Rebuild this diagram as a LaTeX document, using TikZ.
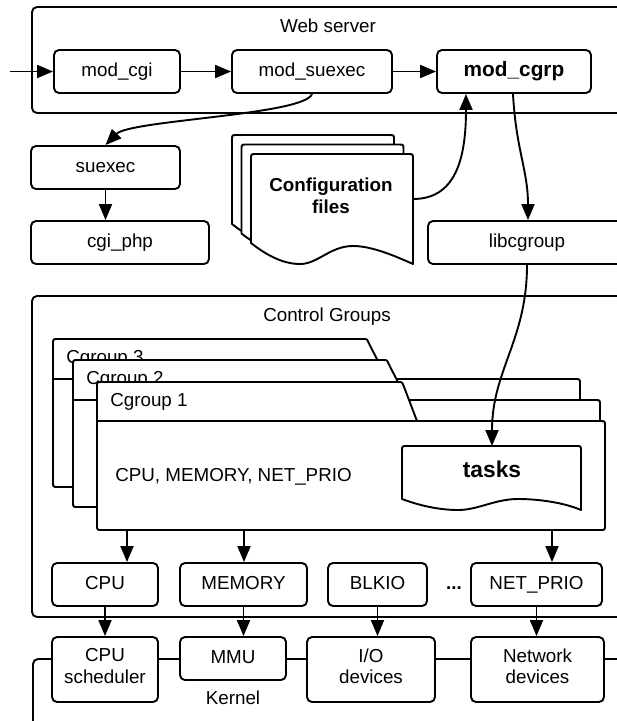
\documentclass[tikz,border=0pt]{standalone}
\usepackage{fontspec}
\setmainfont{Liberation Sans}
\usetikzlibrary{arrows.meta}

% folder outline: #1 left, #2 top, #3 tab foot y, #4 tab top-right x,
% #5 tab foot x, #6 right, #7 bottom
\newcommand\cgfolder[7]{%
  \draw[fill=white] (#1,#7-5) -- (#1,#2+5) .. controls (#1,#2) .. (#1+5,#2)
    -- (#4-4,#2) .. controls (#4,#2) .. (#4+1.5,#2+3.5) -- (#5,#3)
    -- (#6-5,#3) .. controls (#6,#3) .. (#6,#3+5) -- (#6,#7-5)
    .. controls (#6,#7) .. (#6-5,#7) -- (#1+5,#7) .. controls (#1,#7) .. (#1,#7-5) -- cycle;
  \draw (#1,#3) -- (#5,#3);
}
% one sheet of the configuration stack
\newcommand\confsheet{%
  \draw[fill=white] (251,243) -- (251,159) .. controls (251,154) .. (256,154)
    -- (408,154) .. controls (413,154) .. (413,159) -- (413,264)
    .. controls (395,256) and (372,246) .. (353,246)
    .. controls (330,246) and (318,264) .. (300,264)
    .. controls (282,264) and (265,254) .. (251,243) -- cycle;
}
\newcommand\lowstrut{\rule[-7pt]{0pt}{7pt}}

\begin{document}
\begin{tikzpicture}[x=1pt,y=-1pt,
  line width=1.9pt, line join=round,
  every node/.style={font=\fontsize{18.8pt}{21.5pt}\selectfont},
  box/.style={draw, rounded corners=5pt, fill=white, inner sep=0pt,
    minimum height=43pt, text height=13.5pt, text depth=4pt},
  tallbox/.style={draw, rounded corners=5pt, fill=white, inner sep=0pt,
    minimum height=65pt, align=center},
  group/.style={draw, rounded corners=5pt},
  arr/.style={-{Triangle[length=16pt,width=13pt]}},
  boldtxt/.style={font=\fontsize{18.8pt}{22pt}\selectfont\bfseries},
]
\useasboundingbox (0,0) rectangle (617,721);
\clip (0,0) rectangle (617,721);

% enclosing groups
\draw[group] (32,7) rectangle (624,113);
\node[anchor=base] (wstitle) at (328,32.5) {Web server};
\draw[group] (32,296) rectangle (624,617);
\node[anchor=base] (cgtitle) at (327,321.5) {Control Groups};
\draw[group] (33,659) rectangle (650,760);

% web server modules
\coordinate (in) at (10,71.5);
\node[box, minimum width=126pt] (cgi) at (117,71.5) {mod\_cgi};
\node[box, minimum width=160pt] (suexecmod) at (312,71.5) {mod\_suexec};
\node[box, minimum width=154pt, font=\fontsize{20.8pt}{24pt}\selectfont\bfseries] (cgrp) at (514,71.5) {mod\_cgrp};

% user-space helpers
\node[box, minimum width=149pt] (suexec) at (105.5,167.5) {suexec};
\node[box, minimum width=178pt] (php) at (120,242.5) {cgi\_php};
\node[box, minimum width=198pt] (lib) at (527,242.5) {libcgroup};

% configuration files stack
\begin{scope}[shift={(-19pt,19pt)}]\confsheet\end{scope}
\begin{scope}[shift={(-9.5pt,9.5pt)}]\confsheet\end{scope}
\confsheet
\node[boldtxt, align=center, inner sep=0pt] (conf) at (331,196) {Configuration\\files};
\coordinate (confR) at (413,199);

% cgroup folders
\cgfolder{53}{339}{379}{367}{387}{580}{487}
\node[anchor=base west] (cg3) at (62,363) {Cgroup 3};
\cgfolder{73}{360}{400}{387}{407}{600}{507}
\node[anchor=base west] (cg2) at (82,384) {Cgroup 2};
\cgfolder{97}{382}{421}{402}{417}{605}{530}
\node[anchor=base west] (cg1) at (106,406) {Cgroup 1};
\node[anchor=base west] (cgsub) at (111,481) {CPU, MEMORY, NET\_PRIO};

% tasks file
\draw[fill=white] (402,499) -- (402,451) .. controls (402,446) .. (407,446)
  -- (576,446) .. controls (581,446) .. (581,451) -- (581,510)
  .. controls (565,503) and (540,499) .. (518,499)
  .. controls (495,499) and (478,510) .. (458,510)
  .. controls (438,510) and (418,505) .. (402,499) -- cycle;
\node[anchor=base, font=\fontsize{22.8pt}{26pt}\selectfont\bfseries] (tasks) at (492,477) {tasks};
\coordinate (tasktop) at (492,446);

% controllers
\node[box, minimum width=106pt] (cpu) at (105,584.5) {CPU};
\node[box, minimum width=127pt] (mem) at (243.5,584.5) {MEMORY};
\node[box, minimum width=99pt] (blkio) at (377.5,584.5) {BLKIO};
\node[anchor=base, boldtxt] (dots) at (454,589) {...};
\node[box, minimum width=131pt] (netprio) at (536.5,584.5) {NET\_PRIO};

% kernel parts
\node[tallbox, minimum width=106pt] (sched) at (105,669.5) {CPU\\scheduler\lowstrut};
\node[box, minimum width=106pt] (mmu) at (233,658.5) {MMU};
\node[tallbox, minimum width=128pt] (io) at (371,669.5) {I/O\\devices\lowstrut};
\node[tallbox, minimum width=133pt] (netdev) at (537.5,669.5) {Network\\devices\lowstrut};
\node[anchor=base] (kernel) at (233,704) {Kernel};

% connectors
\draw[arr] (in) -- (cgi);
\draw[arr] (cgi) -- (suexecmod);
\draw[arr] (suexecmod) -- (cgrp);
\draw[arr] (suexecmod.south) .. controls (305,115) and (130,120) .. (suexec.north);
\draw[arr] (suexec.south) -- (suexec.south |- php.north);
\draw[arr] (confR) .. controls (455,199) and (466,160) .. ([xshift=-48pt]cgrp.south);
\draw[arr] ([xshift=-1pt]cgrp.south) .. controls (516,150) and (528,170) .. ([xshift=1pt]lib.north);
\draw[arr] (lib.south) .. controls (527,340) and (492,370) .. (tasktop);

\coordinate (o1) at (127,530);
\coordinate (o2) at (244,530);
\coordinate (o3) at (552,530);
\draw[arr] (o1) -- (o1 |- cpu.north);
\draw[arr] (o2) -- (o2 |- mem.north);
\draw[arr] (o3) -- (o3 |- netprio.north);

\draw[arr] (cpu) -- (sched);
\draw[arr] (mem.south) -- (mem.south |- mmu.north);
\draw[arr] (blkio.south) -- (blkio.south |- io.north);
\draw[arr] (netprio.south) -- (netprio.south |- netdev.north);
\end{tikzpicture}
\end{document}
